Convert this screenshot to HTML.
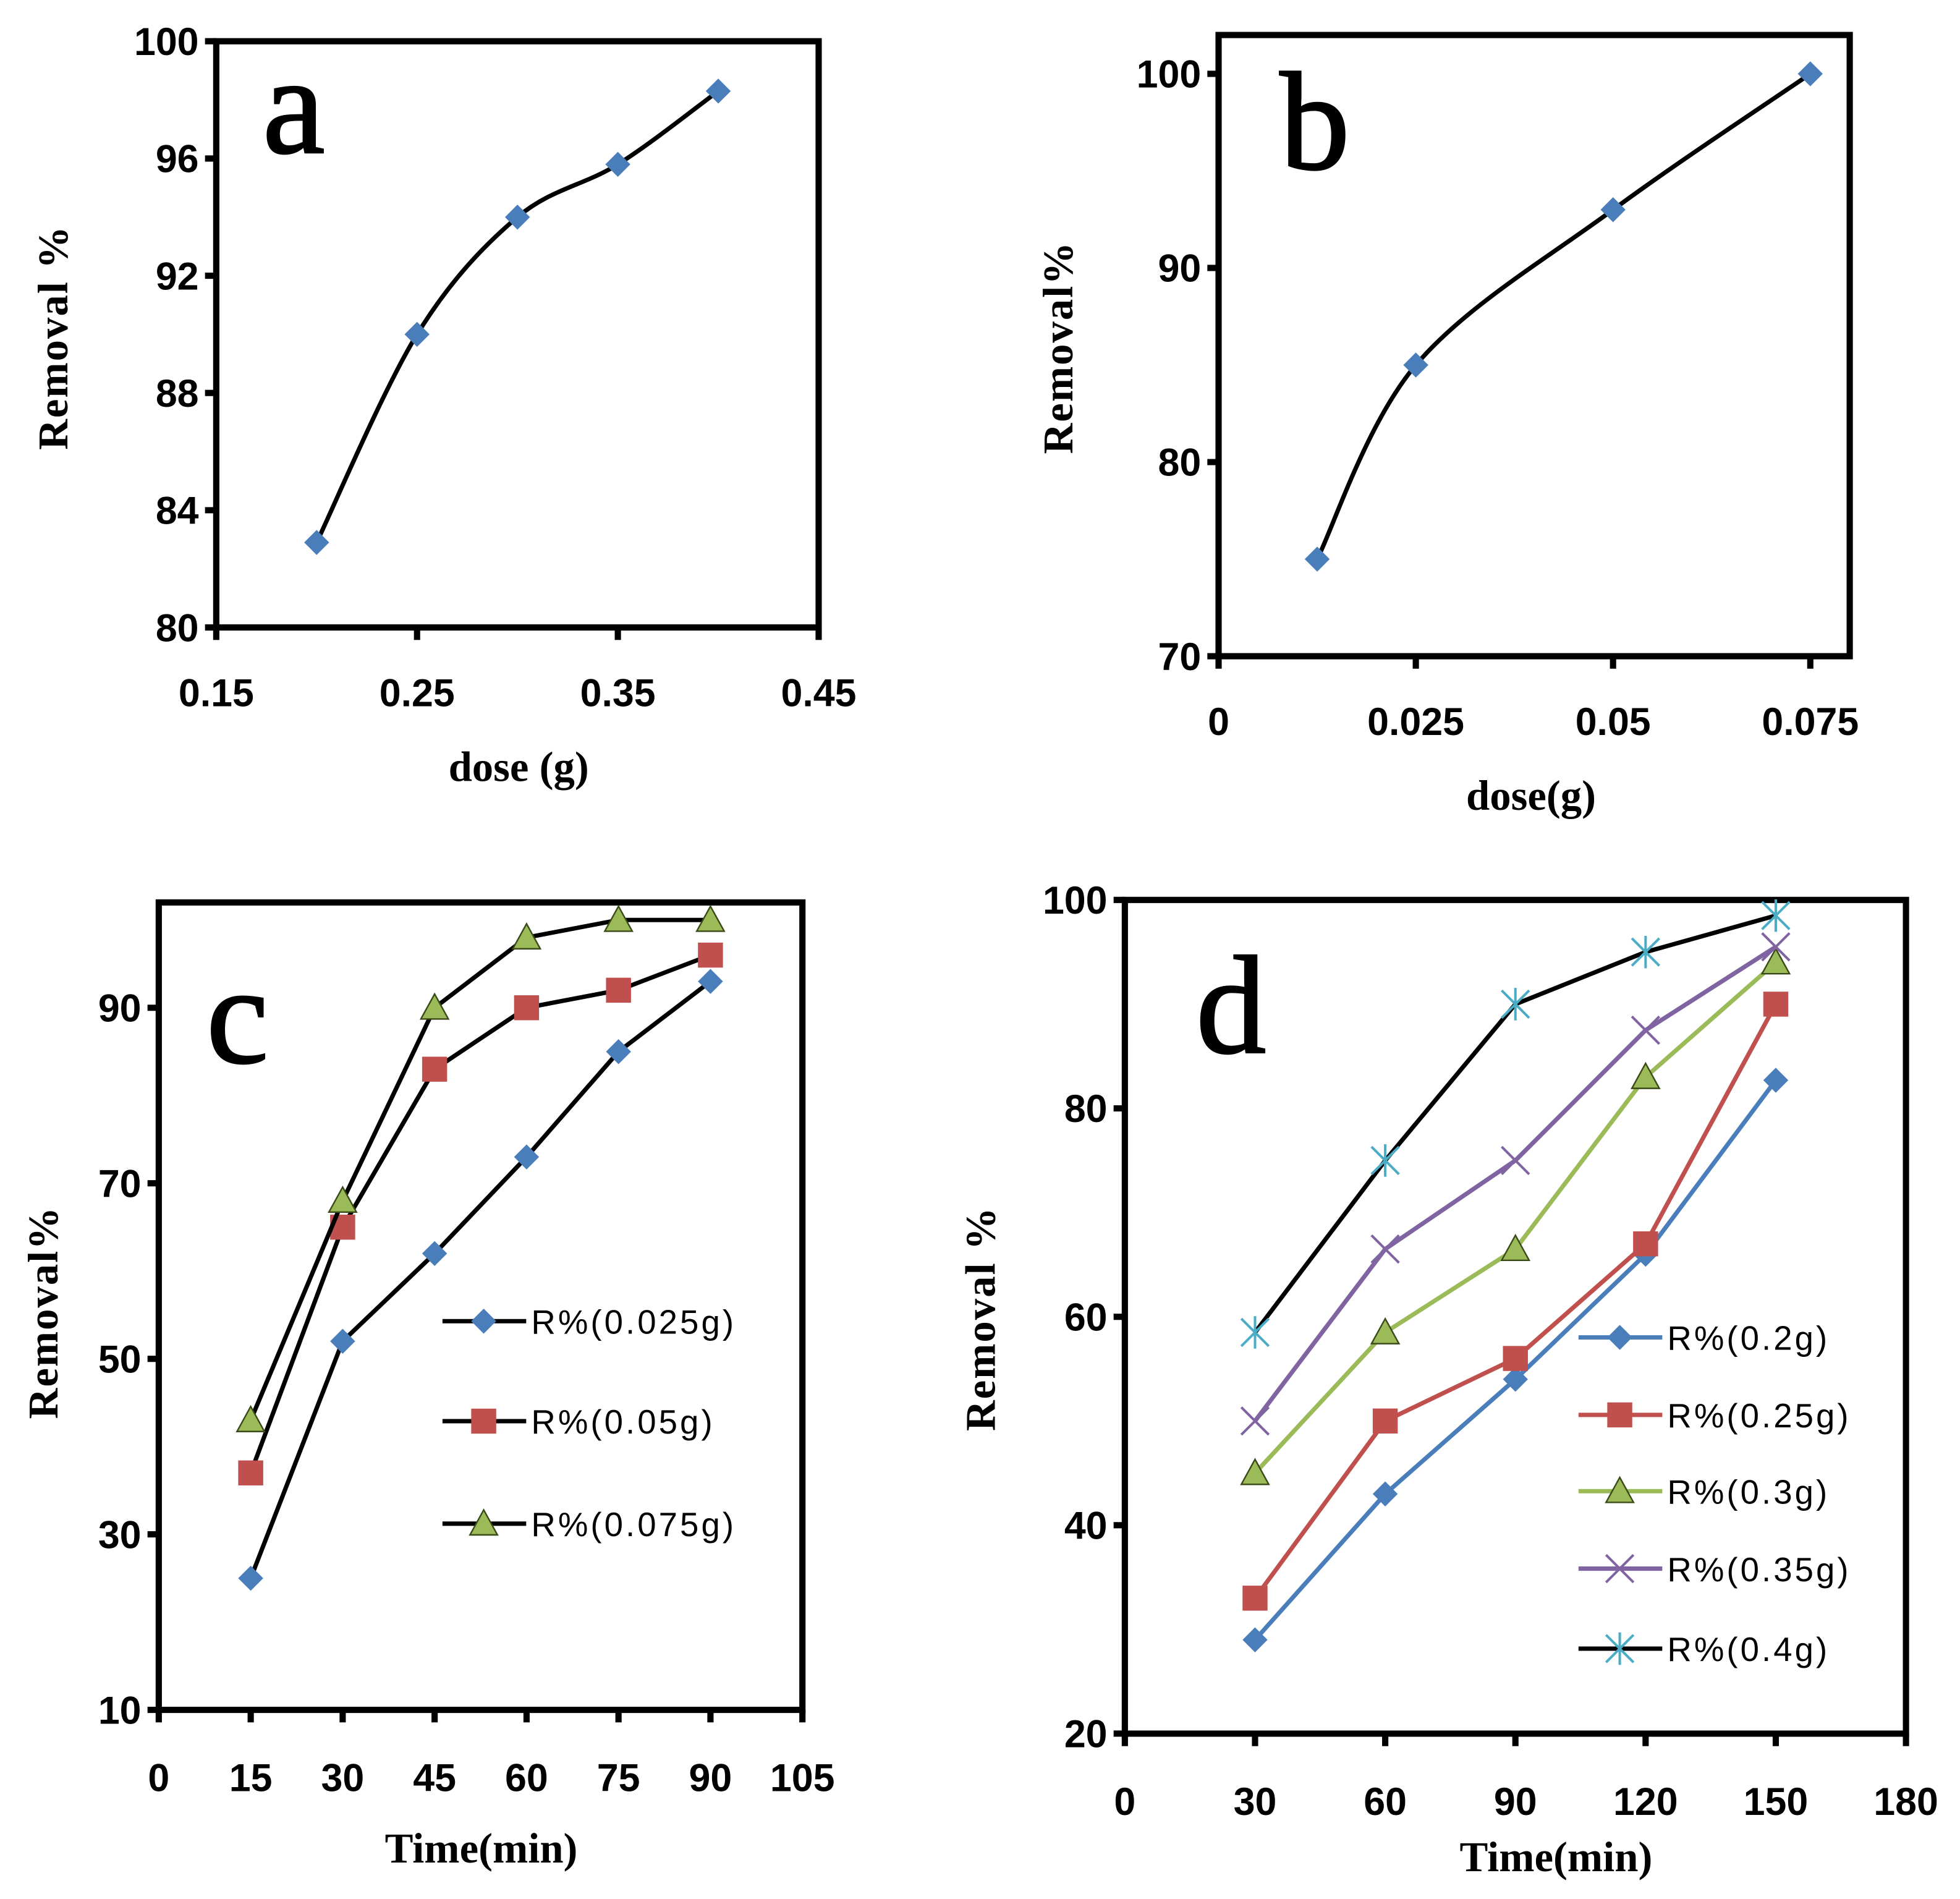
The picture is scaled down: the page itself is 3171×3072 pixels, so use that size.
<!DOCTYPE html>
<html><head><meta charset="utf-8"><style>
html,body{margin:0;padding:0;background:#fff;}
svg{display:block;}
</style></head><body>
<svg id="fig" width="3171" height="3072" viewBox="0 0 1568.2 1519.3" xmlns="http://www.w3.org/2000/svg"></svg>
<script>
// Panel a
const aDose = [0.2, 0.25, 0.3, 0.35, 0.4];
const aRemoval = [82.9, 90, 94, 95.8, 98.3];
const aYTicks = [80, 84, 88, 92, 96, 100];
const aXTicks = [0.15, 0.25, 0.35, 0.45];
// Panel b
const bDose = [0.0125, 0.025, 0.05, 0.075];
const bRemoval = [75, 85, 93, 100];
const bYTicks = [70, 80, 90, 100];
const bXTicks = [0, 0.025, 0.05, 0.075];
// Panel c
const cTime = [15, 30, 45, 60, 75, 90];
const c025 = [25, 52, 62, 73, 85, 93];
const c05 = [37, 65, 83, 90, 92, 96];
const c075 = [43, 68, 90, 98, 100, 100];
const cYTicks = [10, 30, 50, 70, 90];
const cXTicks = [0, 15, 30, 45, 60, 75, 90, 105];
// Panel d
const dTime = [30, 60, 90, 120, 150];
const d02 = [29, 43, 54, 66, 82.7];
const d025 = [33, 50, 56, 67, 90];
const d03 = [45, 58.5, 66.5, 83, 94];
const d035 = [50, 66.5, 75, 87.5, 95.5];
const d04 = [58.5, 75, 90, 95, 98.5];
const dYTicks = [20, 40, 60, 80, 100];
const dXTicks = [0, 30, 60, 90, 120, 150, 180];

const NS = "http://www.w3.org/2000/svg";
const SANS = '"Liberation Sans", "DejaVu Sans", sans-serif';
const SERIF = '"Liberation Serif", "DejaVu Serif", serif';
const svg = document.getElementById('fig');
function el(tag, attrs, parent, txt){
  const e = document.createElementNS(NS, tag);
  for (const k in attrs) e.setAttribute(k, attrs[k]);
  if (txt !== undefined) e.textContent = txt;
  (parent || svg).appendChild(e);
  return e;
}
function smoothPath(pts){
  let d = `M${pts[0][0]},${pts[0][1]}`;
  for (let i=0;i<pts.length-1;i++){
    const p0=pts[Math.max(0,i-1)], p1=pts[i], p2=pts[i+1], p3=pts[Math.min(pts.length-1,i+2)];
    const t=0.5/3;
    d += ` C${p1[0]+(p2[0]-p0[0])*t},${p1[1]+(p2[1]-p0[1])*t} ${p2[0]-(p3[0]-p1[0])*t},${p2[1]-(p3[1]-p1[1])*t} ${p2[0]},${p2[1]}`;
  }
  return d;
}
function marker(g, type, x, y, color){
  let m;
  if (type==='diamond') m = el('polygon',{points:`${x},${y-10} ${x+10},${y} ${x},${y+10} ${x-10},${y}`,fill:color},g);
  else if (type==='square') m = el('rect',{x:x-10,y:y-10,width:20,height:20,fill:color},g);
  else if (type==='triangle') m = el('polygon',{points:`${x},${y-11} ${x+11},${y+9} ${x-11},${y+9}`,fill:color,stroke:'#3a4a18','stroke-width':1.2},g);
  else if (type==='x') m = el('path',{d:`M${x-11},${y-11}L${x+11},${y+11}M${x-11},${y+11}L${x+11},${y-11}`,stroke:color,'stroke-width':2,fill:'none'},g);
  else if (type==='star') m = el('path',{d:`M${x-11},${y-11}L${x+11},${y+11}M${x-11},${y+11}L${x+11},${y-11}M${x},${y-13}L${x},${y+13}`,stroke:color,'stroke-width':2,fill:'none'},g);
  return m;
}
function panel(c){
  const g = el('g',{});
  
  
  const sx = v => c.L + (v - c.xmin)/(c.xmax - c.xmin)*(c.R - c.L);
  const sy = v => c.B - (v - c.ymin)/(c.ymax - c.ymin)*(c.B - c.T);
  const box = el('rect',{x:c.L,y:c.T,width:c.R-c.L,height:c.B-c.T,fill:'none',stroke:'#000','stroke-width':5},g);
  
  
  c.yt.forEach(v=>{
    el('line',{x1:c.L-9,x2:c.L,y1:sy(v),y2:sy(v),stroke:'#000','stroke-width':5},g);
    const t = el('text',{x:c.L-14,y:sy(v)+11,'text-anchor':'end','font-size':31,'font-weight':'bold','font-family':SANS},g,String(v));
    
    
  });
  c.xt.forEach(v=>{
    el('line',{x1:sx(v),x2:sx(v),y1:c.B,y2:c.B+10,stroke:'#000','stroke-width':5},g);
    const t = el('text',{x:sx(v),y:c.xly,'text-anchor':'middle','font-size':31,'font-weight':'bold','font-family':SANS},g,String(v));
    
    
  });
  c.series.forEach(s=>{
    const pts = c.x.map((xv,i)=>[sx(xv), sy(s.y[i])]);
    const sg = el('g',{},g);
    
    
    const d = c.smooth ? smoothPath(pts) : 'M'+pts.map(p=>p.join(',')).join('L');
    el('path',{d:d,fill:'none',stroke:s.line,'stroke-width':3.5},sg);
    pts.forEach(p=>{
      const m = marker(sg, s.mk, p[0], p[1], s.color);
      
      
    });
    if (s.leg){
      const lg = el('g',{},g);
      
      
      el('line',{x1:s.leg[0],x2:s.leg[0]+67,y1:s.leg[1],y2:s.leg[1],stroke:s.line,'stroke-width':3.5},lg);
      marker(lg, s.mk, s.leg[0]+33, s.leg[1], s.color);
      el('text',{x:s.leg[0]+71,y:s.leg[1]+10,'font-size':27,'letter-spacing':2,'font-family':SANS},lg,s.label);
    }
  });
  const lt = el('text',{x:c.letter[0],y:c.letter[1],'font-size':112,'stroke':'#000','stroke-width':1.5,'font-family':SERIF,'text-anchor':'middle'},g,c.letterTxt);
  
  
  const yt = el('text',{x:0,y:0,transform:`translate(${c.ytitle[0]},${c.ytitle[1]}) rotate(-90)`,'text-anchor':'middle','font-size':34,'font-weight':'bold','font-family':SERIF,'letter-spacing':1},g,c.yTitle);
  
  
  const xt = el('text',{x:c.xtitle[0],y:c.xtitle[1],'text-anchor':'middle','font-size':34,'font-weight':'bold','font-family':SERIF},g,c.xTitle);
  
  
}
const BLUE='#4a7ebb', RED='#c0504d', GREEN='#9bbb59', PURPLE='#8064a2', CYAN='#4bacc6';
panel({name:'panel-a',L:173,R:655,T:33,B:502,xmin:0.15,xmax:0.45,ymin:80,ymax:100,yt:aYTicks,xt:aXTicks,xly:565,smooth:true,
  x:aDose,series:[{name:'series-a',y:aRemoval,line:'#000',color:BLUE,mk:'diamond'}],
  letter:[235,122],letterTxt:'a',ytitle:[54,270],yTitle:'Removal %',xtitle:[415,625],xTitle:'dose (g)'});
panel({name:'panel-b',L:975,R:1480,T:28,B:525,xmin:0,xmax:0.08,ymin:70,ymax:102,yt:bYTicks,xt:bXTicks,xly:588,smooth:true,
  x:bDose,series:[{name:'series-b',y:bRemoval,line:'#000',color:BLUE,mk:'diamond'}],
  letter:[1052,135],letterTxt:'b',ytitle:[858,278],yTitle:'Removal%',xtitle:[1225,648],xTitle:'dose(g)'});
panel({name:'panel-c',L:127,R:642,T:722,B:1368,xmin:0,xmax:105,ymin:10,ymax:102,yt:cYTicks,xt:cXTicks,xly:1433,smooth:false,
  x:cTime,series:[
    {name:'series-0.025g',y:c025,line:'#000',color:BLUE,mk:'diamond',leg:[354,1057],label:'R%(0.025g)'},
    {name:'series-0.05g',y:c05,line:'#000',color:RED,mk:'square',leg:[354,1137],label:'R%(0.05g)'},
    {name:'series-0.075g',y:c075,line:'#000',color:GREEN,mk:'triangle',leg:[354,1219],label:'R%(0.075g)'}],
  letter:[190,850],letterTxt:'c',ytitle:[46,1050],yTitle:'Removal%',xtitle:[385,1490],xTitle:'Time(min)'});
panel({name:'panel-d',L:900,R:1525,T:720,B:1387,xmin:0,xmax:180,ymin:20,ymax:100,yt:dYTicks,xt:dXTicks,xly:1452,smooth:false,
  x:dTime,series:[
    {name:'series-0.2g',y:d02,line:BLUE,color:BLUE,mk:'diamond',leg:[1263,1070],label:'R%(0.2g)'},
    {name:'series-0.25g',y:d025,line:RED,color:RED,mk:'square',leg:[1263,1132],label:'R%(0.25g)'},
    {name:'series-0.3g',y:d03,line:GREEN,color:GREEN,mk:'triangle',leg:[1263,1193],label:'R%(0.3g)'},
    {name:'series-0.35g',y:d035,line:PURPLE,color:PURPLE,mk:'x',leg:[1263,1255],label:'R%(0.35g)'},
    {name:'series-0.4g',y:d04,line:'#000',color:CYAN,mk:'star',leg:[1263,1319],label:'R%(0.4g)'}],
  letter:[985,842],letterTxt:'d',ytitle:[796,1055],yTitle:'Removal %',xtitle:[1245,1497],xTitle:'Time(min)'});
</script>
</body></html>
